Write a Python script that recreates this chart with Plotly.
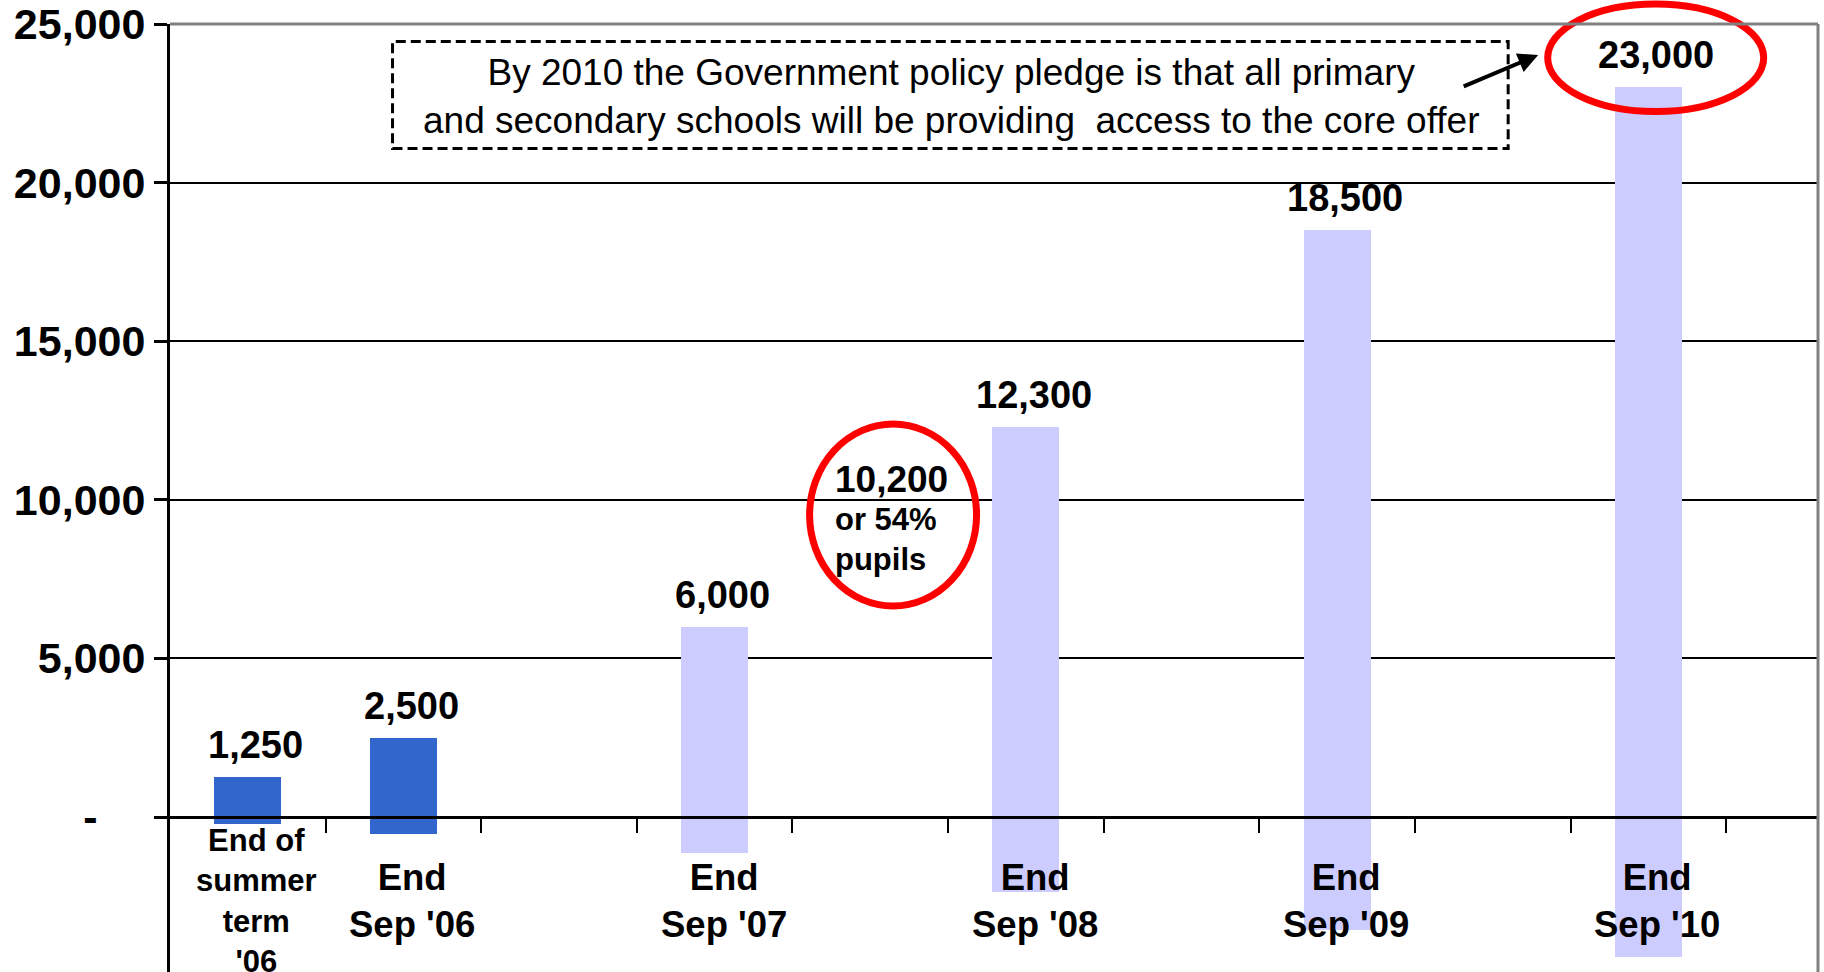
import plotly.graph_objects as go

# ---- data ----
categories = ["End of<br>summer<br>term<br>'06", "End<br>Sep '06", "End<br>Sep '07",
              "End<br>Sep '08", "End<br>Sep '09", "End<br>Sep '10"]
slot_positions = [0, 1, 3, 5, 7, 9]
values = [1250, 2500, 6000, 12300, 18500, 23000]
bar_bottoms = [-205, -520, -1150, -2370, -3567, -4418]
bar_colors = ["#3366CC", "#3366CC", "#CCCCFF", "#CCCCFF", "#CCCCFF", "#CCCCFF"]
value_labels = ["1,250", "2,500", "6,000", "12,300", "18,500", "23,000"]
category_font_sizes = [31, 36.5, 36.5, 36.5, 36.5, 36.5]

y_tickvals = [0, 5000, 10000, 15000, 20000, 25000]
y_ticktext = ["-\u00a0\u00a0\u00a0\u00a0", "5,000", "10,000", "15,000", "20,000", "25,000"]
slot_boundaries = [0.5, 1.5, 2.5, 3.5, 4.5, 5.5, 6.5, 7.5, 8.5, 9.5]

callout_slot = 4
callout_value = 10200
callout_sub = "or 54%<br>pupils"
pledge_text = ("By 2010 the Government policy pledge is that all primary<br>"
               "and secondary schools will be providing\u00a0 access to the core offer")

Y_MIN, Y_MAX = -4886, 25000
X_MIN, X_MAX = -0.5, 10.09

FONT = "Liberation Sans, Arial, sans-serif"

fig = go.Figure()
fig.add_trace(go.Bar(
    x=slot_positions,
    y=[v - b for v, b in zip(values, bar_bottoms)],
    base=bar_bottoms,
    width=0.43,
    marker=dict(color=bar_colors, line=dict(width=0)),
    hoverinfo="skip",
    showlegend=False,
))

annotations = []
# value labels above bars
for xpos, v, lab in zip(slot_positions, values, value_labels):
    annotations.append(dict(x=xpos, y=v, xref="x", yref="y", text=lab, showarrow=False,
                            yanchor="bottom", xanchor="center", xshift=8, yshift=9,
                            font=dict(family=FONT, size=38, color="black", weight="bold")))
# category labels below axis
for xpos, cat, fs in zip(slot_positions, categories, category_font_sizes):
    annotations.append(dict(x=xpos, y=0, xref="x", yref="y", text=cat, showarrow=False,
                            yanchor="middle", xanchor="center", xshift=9, yshift=-84,
                            font=dict(family=FONT, size=fs, color="black", weight="bold")))
# callout 10,200
annotations.append(dict(x=callout_slot, y=callout_value, xref="x", yref="y",
                        text=f"{callout_value:,}", showarrow=False, xanchor="left",
                        yanchor="bottom", xshift=-37, yshift=-9,
                        font=dict(family=FONT, size=37, color="black", weight="bold")))
annotations.append(dict(x=callout_slot, y=callout_value, xref="x", yref="y",
                        text=callout_sub, showarrow=False, xanchor="left", align="left",
                        yanchor="top", xshift=-37, yshift=-7,
                        font=dict(family=FONT, size=31, color="black", weight="bold")))
# pledge text
annotations.append(dict(x=4.52, y=22700, xref="x", yref="y", text=pledge_text,
                        showarrow=False, xanchor="center", yanchor="middle", align="center",
                        font=dict(family=FONT, size=37, color="black")))
# arrow to 23,000
annotations.append(dict(x=8.292, y=24022, xref="x", yref="y", text="", showarrow=True,
                        ax=-76, ay=32, arrowhead=2, arrowsize=1, arrowwidth=4,
                        arrowcolor="black", standoff=0))

shapes = [
    # dashed box
    dict(type="rect", xref="x", yref="y", x0=0.930, x1=8.099, y0=21075, y1=24448,
         line=dict(color="black", width=3, dash="10px,5px"), fillcolor="rgba(0,0,0,0)"),
    # red circle around 10,200
    dict(type="circle", xref="x", yref="y", x0=3.610, x1=4.683, y0=6652, y1=12390,
         line=dict(color="#FF0000", width=7)),
    # red ellipse around 23,000
    dict(type="circle", xref="x", yref="paper", x0=8.353, x1=9.741, y0=0.9077, y1=1.021,
         line=dict(color="#FF0000", width=7)),
    # plot frame top and right
    dict(type="line", xref="paper", yref="paper", x0=0, x1=1, y0=1, y1=1,
         line=dict(color="#808080", width=3), layer="above"),
    dict(type="line", xref="paper", yref="paper", x0=1, x1=1, y0=0, y1=1,
         line=dict(color="#808080", width=3), layer="above"),
]

zero_pos = (0 - Y_MIN) / (Y_MAX - Y_MIN)

fig.update_layout(
    width=1824, height=972,
    margin=dict(l=170, r=6, t=24, b=0, pad=0),
    paper_bgcolor="white", plot_bgcolor="white",
    font=dict(family=FONT, color="black"),
    bargap=0,
    annotations=annotations,
    shapes=shapes,
    xaxis=dict(range=[X_MIN, X_MAX], anchor="free", position=zero_pos,
               showline=True, linecolor="black", linewidth=3,
               tickmode="array", tickvals=slot_boundaries, ticks="outside",
               ticklen=14, tickwidth=2, tickcolor="black",
               showticklabels=False, showgrid=False, zeroline=False, fixedrange=True),
    yaxis=dict(range=[Y_MIN, Y_MAX], tickmode="array", tickvals=y_tickvals,
               ticktext=y_ticktext, ticks="outside", ticklen=13, tickwidth=3,
               tickcolor="black", showline=True, linecolor="black", linewidth=3,
               showgrid=True, gridcolor="black", gridwidth=2, zeroline=False,
               ticklabelstandoff=0,
               tickfont=dict(family=FONT, size=43, color="black", weight="bold"),
               fixedrange=True),
)

fig.write_html("out.html")
